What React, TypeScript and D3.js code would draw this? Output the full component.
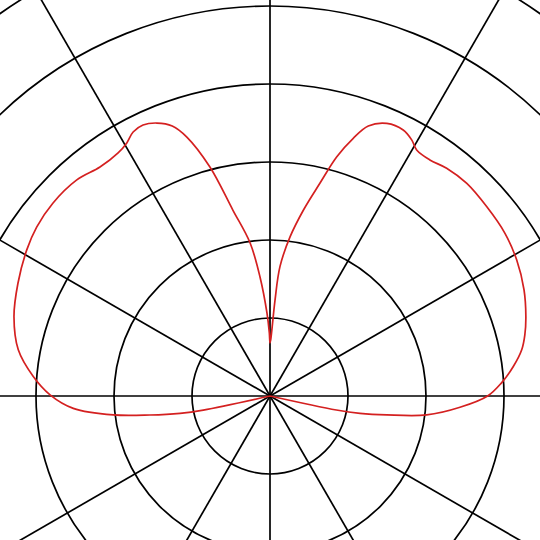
import * as d3 from "d3";

// grid rings (radius units) and spoke directions (degrees, math convention)
const rings = [1, 2, 3, 4, 5, 6];
const spokes = [0, 30, 60, 90, 120, 150];

// traced pattern: angle in degrees (0 = right, counter-clockwise), radius in ring units
const angles = [
  -13, -11.9, -10.9, -9.2, -6.9, -3.4, 0, 3.2, 6.9, 10.4, 13.5, 17.2, 22.7,
  28.9, 34.7, 41.1, 47.2, 52.2, 55.9, 59.2, 61.0, 63.4, 66.8, 70.0, 72.1, 74.4,
  76.8, 79.8, 82.8, 85.6, 87.0, 89.3, 90, 90.6, 92.1, 94.8, 97.4, 101.3, 104.7, 107.8,
  109.9, 112.5, 115.1, 117.4, 119.5, 122.0, 126.6, 131.8, 138.4, 144.1, 149.0, 155.9,
  162.8, 169.6, 175.3, 179.7, 183.6, 186.9, 189.0, 190.9, 191.9, 193,
];
const radii = [
  0, 0.87, 1.175, 1.516, 2.023, 2.44, 2.79, 2.97, 3.142, 3.281, 3.36, 3.434, 3.53,
  3.612, 3.664, 3.689, 3.714, 3.695, 3.655, 3.672, 3.751, 3.814, 3.803,
  3.684, 3.472, 3.185, 2.801, 2.423, 2.059, 1.663, 1.232, 0.718, 0.68, 0.808, 1.065,
  1.531, 1.978, 2.431, 3.035, 3.487, 3.682, 3.788, 3.837, 3.813, 3.728, 3.675, 3.656,
  3.716, 3.723, 3.693, 3.638, 3.54, 3.436, 3.281, 3.045, 2.82, 2.527, 2.023, 1.558,
  1.175, 0.874, 0,
];

export default function App() {
  const width = 540;
  const height = 540;
  const cx = 270;
  const cy = 396;

  const r = d3.scaleLinear().domain([0, 6]).range([0, 468]);

  const points: [number, number][] = angles.map((a, i) => [
    ((90 - a) * Math.PI) / 180,
    r(radii[i]),
  ]);

  const pattern = d3
    .lineRadial()
    .angle((d) => d[0])
    .radius((d) => d[1])
    .curve(d3.curveCatmullRom.alpha(0.5));

  const spokeLen = 800;

  return (
    <div style={{ position: "fixed", left: 0, top: 0 }}>
      <svg width={width} height={height} style={{ display: "block", background: "white" }}>
        <g transform={`translate(${cx},${cy})`}>
          {/* rings */}
          {rings.map((v) => (
            <circle key={v} r={r(v)} fill="none" stroke="black" strokeWidth={1.7} />
          ))}
          {/* spokes */}
          {spokes.map((deg) => {
            const t = (deg * Math.PI) / 180;
            return (
              <line
                key={deg}
                x1={-Math.cos(t) * spokeLen}
                y1={Math.sin(t) * spokeLen}
                x2={Math.cos(t) * spokeLen}
                y2={-Math.sin(t) * spokeLen}
                stroke="black"
                strokeWidth={1.7}
              />
            );
          })}
          {/* pattern */}
          <path d={pattern(points) || ""} fill="none" stroke="#d42020" strokeWidth={1.7} />
        </g>
      </svg>
    </div>
  );
}
